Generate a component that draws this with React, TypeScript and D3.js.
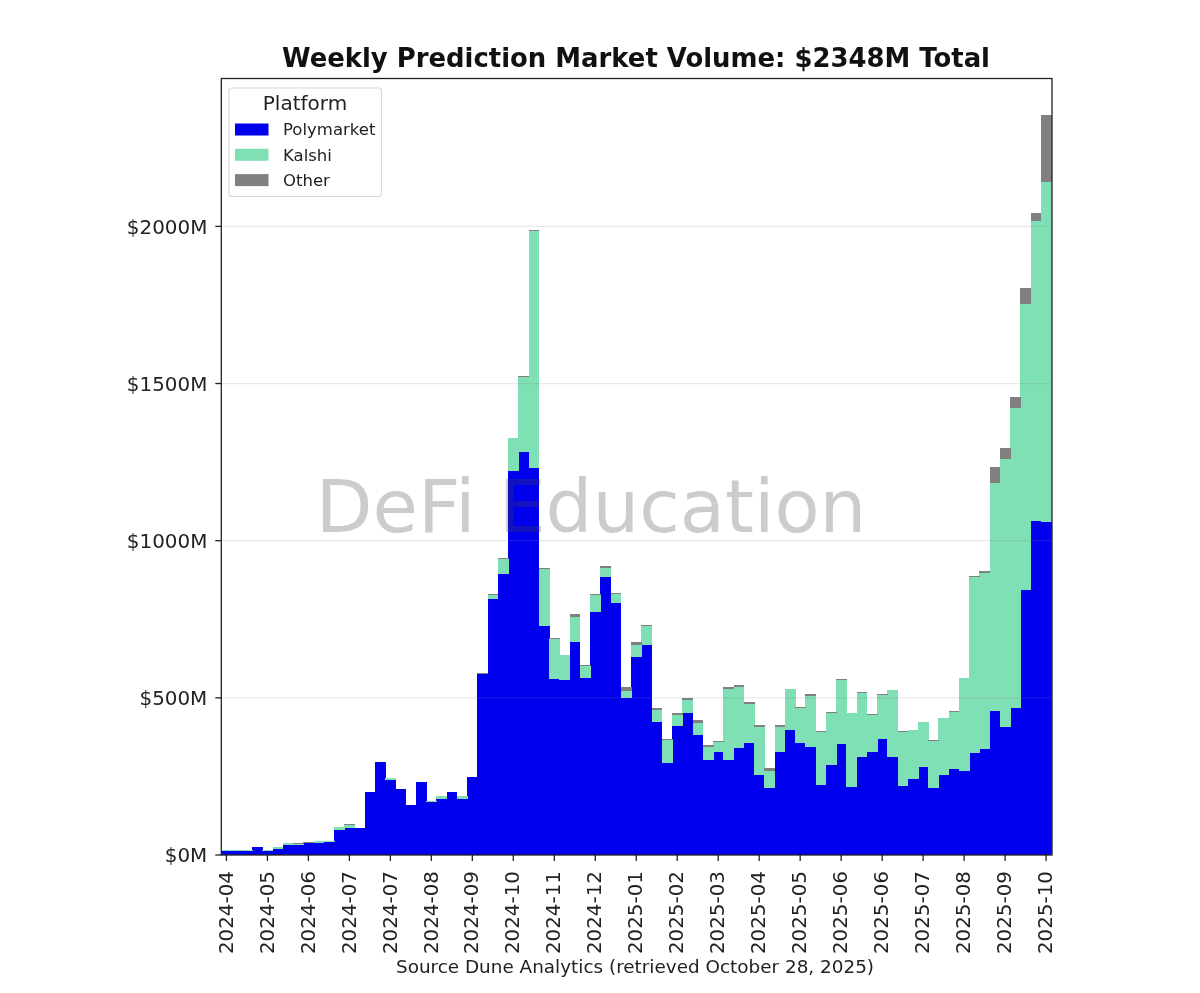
import React from "react";
import * as d3 from "d3";

// Weekly volume in $M, one entry per week, 81 weeks
const polymarket = [
  14, 14, 14, 24, 14, 18, 31, 33, 37, 38,
  41, 80, 87, 85, 201, 295, 239, 210, 158, 231,
  170, 179, 201, 178, 247, 577, 813, 893, 1223, 1283,
  1230, 730, 560, 556, 679, 564, 774, 886, 801, 500,
  631, 669, 424, 294, 411, 453, 382, 301, 327, 301,
  339, 356, 255, 212, 327, 398, 355, 344, 224, 287,
  352, 216, 313, 327, 368, 313, 221, 242, 280, 212,
  255, 273, 267, 323, 336, 458, 407, 467, 843, 1064,
  1058,
];
const kalshi = [
  1, 1, 1, 1, 1, 7, 6, 3, 2, 6,
  3, 9, 10, 1, 0, 0, 6, 0, 0, 0,
  1, 8, 0, 9, 0, 0, 15, 49, 103, 239,
  756, 179, 128, 79, 79, 38, 54, 27, 28, 23,
  37, 60, 38, 72, 33, 39, 38, 44, 31, 226,
  197, 123, 153, 55, 81, 129, 113, 162, 168, 164,
  205, 235, 201, 119, 140, 211, 171, 155, 142, 152,
  180, 183, 295, 563, 560, 727, 854, 955, 909, 954,
  1083,
];
const other = [
  0, 0, 0, 0, 0, 1, 1, 1, 1, 1,
  1, 1, 1, 1, 0, 0, 1, 0, 0, 0,
  0, 1, 0, 1, 0, 1, 2, 3, 2, 2,
  2, 5, 2, 2, 8, 2, 2, 7, 6, 10,
  9, 3, 7, 2, 9, 7, 11, 6, 6, 6,
  6, 7, 7, 9, 7, 2, 2, 6, 1, 5,
  2, 2, 6, 2, 4, 1, 1, 1, 1, 1,
  1, 1, 1, 3, 9, 50, 34, 34, 51, 26,
  212,
];
const platforms = ["Polymarket", "Kalshi", "Other"];
const platformColors = ["#0000ee", "#7fdfb5", "#808080"];
// one label for every fourth week, starting from the first
const xTickLabels = [
  "2024-04", "2024-05", "2024-06", "2024-07", "2024-07", "2024-08", "2024-09",
  "2024-10", "2024-11", "2024-12", "2025-01", "2025-02", "2025-03", "2025-04",
  "2025-05", "2025-06", "2025-06", "2025-07", "2025-08", "2025-09", "2025-10",
];
const yTicks = [0, 500, 1000, 1500, 2000];
const titleText = "Weekly Prediction Market Volume: $2348M Total";
const sourceText = "Source Dune Analytics (retrieved October 28, 2025)";
const watermarkText = "DeFi Education";

const WIDTH = 1200;
const HEIGHT = 993;
const plot = { left: 221.3, right: 1052, top: 78.5, bottom: 855 };
const FONT = "'DejaVu Sans', sans-serif";
const INK = "#222";

export default function App() {
  const weeks = d3.range(polymarket.length);
  const rows = weeks.map((i) => ({ i, Polymarket: polymarket[i], Kalshi: kalshi[i], Other: other[i] }));
  const stacked = d3.stack<any>().keys(platforms)(rows);
  const x = d3.scaleBand<number>().domain(weeks).range([plot.left, plot.right - 0.8]).padding(0);
  const y = d3.scaleLinear().domain([0, 2470.5]).range([plot.bottom, plot.top]);
  const cx = (i: number) => (x(i) as number) + x.bandwidth() / 2;

  return (
    <div style={{ position: "absolute", left: 0, top: 0 }}>
      <svg width={WIDTH} height={HEIGHT} viewBox={`0 0 ${WIDTH} ${HEIGHT}`} style={{ display: "block", background: "#fff", filter: "blur(0.4px)" }} fontFamily={FONT}>
        <g shapeRendering="crispEdges">
          {stacked.map((layer, k) => (
            <g key={platforms[k]} fill={platformColors[k]}>
              {layer.map((d, i) =>
                d[1] > d[0] ? (
                  <rect key={i} x={x(i)} width={x.bandwidth() + 0.5} y={y(d[1])} height={y(d[0]) - y(d[1])} />
                ) : null
              )}
            </g>
          ))}
        </g>

        {yTicks.slice(1).map((t) => (
          <line key={t} x1={plot.left} x2={plot.right} y1={y(t)} y2={y(t)} stroke="#808080" strokeOpacity={0.18} strokeWidth={1.2} />
        ))}

        <text x={591} y={532} textAnchor="middle" fontSize={73.8} fill="#444" fillOpacity={0.27}>
          {watermarkText}
        </text>

        <rect x={plot.left} y={plot.top} width={plot.right - plot.left} height={plot.bottom - plot.top} fill="none" stroke={INK} strokeWidth={1.3} />

        {yTicks.map((t) => (
          <g key={t}>
            <line x1={plot.left - 6} x2={plot.left} y1={y(t)} y2={y(t)} stroke={INK} strokeWidth={1.3} />
            <text x={plot.left - 14} y={y(t)} dy="0.36em" textAnchor="end" fontSize={19.9} fill={INK}>
              {`$${t}M`}
            </text>
          </g>
        ))}

        {xTickLabels.map((label, n) => {
          const px = cx(n * 4);
          return (
            <g key={n}>
              <line x1={px} x2={px} y1={plot.bottom} y2={plot.bottom + 6} stroke={INK} strokeWidth={1.3} />
              <text transform={`translate(${px - 1},${plot.bottom + 16}) rotate(-90)`} dy="0.36em" textAnchor="end" fontSize={19.9} fill={INK}>
                {label}
              </text>
            </g>
          );
        })}

        <text x={636} y={67} textAnchor="middle" fontSize={25.9} fontWeight="bold" fill="#111">
          {titleText}
        </text>
        <text x={635} y={973} textAnchor="middle" fontSize={18.4} fill={INK}>
          {sourceText}
        </text>

        <g>
          <rect x={229} y={88} width={152.5} height={108.5} rx={3} fill="#fff" fillOpacity={0.85} stroke="#d8d8d8" strokeWidth={1.2} />
          <text x={305} y={110} textAnchor="middle" fontSize={20} fill={INK}>
            Platform
          </text>
          {platforms.map((p, k) => {
            const rowY = 129.5 + k * 25.3;
            return (
              <g key={p}>
                <rect x={235} y={rowY - 6} width={33.5} height={12} fill={platformColors[k]} />
                <text x={283} y={rowY} dy="0.36em" fontSize={16.5} fill={INK}>
                  {p}
                </text>
              </g>
            );
          })}
        </g>
      </svg>
    </div>
  );
}
